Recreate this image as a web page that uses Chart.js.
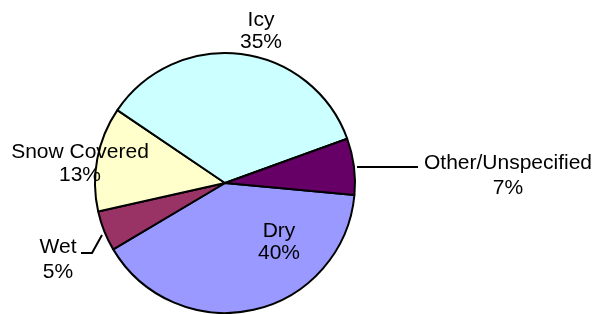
<!DOCTYPE html>
<html>
<head>
<meta charset="utf-8">
<script src="https://cdn.jsdelivr.net/npm/chart.js@4.4.1/dist/chart.umd.min.js"></script>
<style>
  html, body { margin: 0; padding: 0; background: #fff; }
  #wrap { width: 594px; height: 314px; position: relative; }
</style>
</head>
<body>
<div id="wrap"><canvas id="pieChart"></canvas></div>
<script>
// road surface condition shares, in drawing order (clockwise from the Dry slice)
const categories = ['Dry', 'Wet', 'Snow Covered', 'Icy', 'Other/Unspecified'];
const percents = [40, 5, 13, 35, 7];
const sliceColors = ['#9999FF', '#993366', '#FFFFCC', '#CCFFFF', '#660066'];

// where each label sits, relative to the pie centre (x offset, two baselines)
const labelSpots = [
  { dx: 54, y1: 54, y2: 76 },
  { dx: -167, y1: 70, y2: 95 },
  { dx: -145, y1: -25, y2: -2 },
  { dx: 36, y1: -157, y2: -135 },
  { dx: 283, y1: -14, y2: 11 }
];

const labelPlugin = {
  id: 'pieLabels',
  afterDraw(chart) {
    const ctx = chart.ctx;
    const arc = chart.getDatasetMeta(0).data[0];
    const cx = arc.x, cy = arc.y;
    ctx.save();
    // leader lines (Wet and Other/Unspecified)
    ctx.strokeStyle = '#000';
    ctx.lineWidth = 2;
    ctx.beginPath();
    ctx.moveTo(cx - 123, cy + 52);
    ctx.lineTo(cx - 133, cy + 70);
    ctx.lineTo(cx - 144, cy + 70);
    ctx.moveTo(cx + 132, cy - 16);
    ctx.lineTo(cx + 193, cy - 16);
    ctx.stroke();

    ctx.fillStyle = '#000';
    ctx.font = '21px "Liberation Sans", Arial, sans-serif';
    ctx.textAlign = 'center';
    ctx.textBaseline = 'alphabetic';
    categories.forEach((name, i) => {
      const s = labelSpots[i];
      ctx.fillText(name, cx + s.dx, cy + s.y1);
      ctx.fillText(percents[i] + '%', cx + s.dx, cy + s.y2);
    });
    ctx.restore();
  }
};

new Chart(document.getElementById('pieChart'), {
  type: 'pie',
  data: {
    labels: categories,
    datasets: [{
      data: percents,
      backgroundColor: sliceColors,
      borderColor: '#000',
      borderWidth: 2
    }]
  },
  options: {
    responsive: true,
    maintainAspectRatio: false,
    animation: false,
    rotation: 95.3,
    layout: { padding: { left: 94, right: 238, top: 52, bottom: 0 } },
    plugins: {
      legend: { display: false },
      tooltip: { enabled: false }
    }
  },
  plugins: [labelPlugin]
});
</script>
</body>
</html>
